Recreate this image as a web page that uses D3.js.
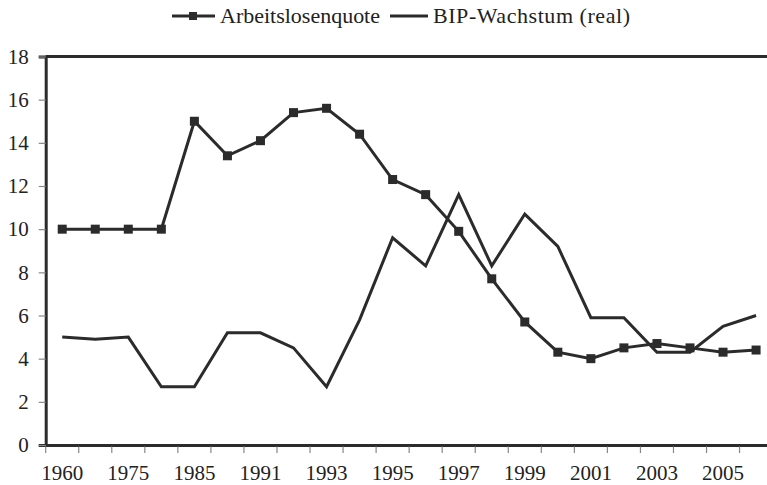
<!DOCTYPE html>
<html><head><meta charset="utf-8">
<script src="https://cdn.jsdelivr.net/npm/d3@7"></script>
<style>body{margin:0;background:#fff}svg{display:block}</style>
</head><body><svg id="c" width="767" height="485"></svg>
<script>
const categories = ["1960","1970","1975","1980","1985","1990","1991","1992","1993","1994","1995","1996","1997","1998","1999","2000","2001","2002","2003","2004","2005","2006"];
const tickLabels = ["1960","1975","1985","1991","1993","1995","1997","1999","2001","2003","2005"];
const arbeitslosenquote = [10,10,10,10,15,13.4,14.1,15.4,15.6,14.4,12.3,11.6,9.9,7.7,5.7,4.3,4.0,4.5,4.7,4.5,4.3,4.4];
const bipWachstum = [5.0,4.9,5.0,2.7,2.7,5.2,5.2,4.5,2.7,5.8,9.6,8.3,11.6,8.3,10.7,9.2,5.9,5.9,4.3,4.3,5.5,6.0];
const yTicks = [0,2,4,6,8,10,12,14,16,18];

const svg = d3.select("#c");
const L = 45.7, R = 772.6, T = 56.5, B = 445;
const x = d3.scaleBand().domain(categories).range([L, R]).padding(0);
const y = d3.scaleLinear().domain([0,18]).range([B, T]);
const col = "#2b2b2b";
const FS = 21;
const FF = '"Liberation Serif"';

svg.append("line").attr("x1",L).attr("x2",R).attr("y1",T).attr("y2",T).attr("stroke",col).attr("stroke-width",3);

const ya = svg.append("g").attr("transform",`translate(${L},0)`)
  .call(d3.axisLeft(y).tickValues(yTicks).tickSize(7).tickPadding(10).tickFormat(d3.format("d")));
ya.select(".domain").attr("stroke",col).attr("stroke-width",3);
ya.selectAll(".tick line").attr("stroke","#888").attr("stroke-width",1.2);
ya.selectAll(".tick text").style("font-family",FF).style("font-size",FS+"px").attr("fill","#222");

const xa = svg.append("g").attr("transform",`translate(0,${B})`)
  .call(d3.axisBottom(x).tickSize(0).tickPadding(0).tickFormat(d => ""));
xa.select(".domain").attr("stroke",col).attr("stroke-width",3);
xa.selectAll(".tick").remove();
const bounds = categories.map(c => x(c)).concat([R]);
xa.selectAll(".bt").data(bounds).enter().append("line")
  .attr("x1",d=>d).attr("x2",d=>d).attr("y1",1.5).attr("y2",8)
  .attr("stroke","#888").attr("stroke-width",1.2);
xa.selectAll(".xl").data(categories.filter((c,i)=>i%2===0)).enter().append("text")
  .attr("x",(c)=>x(c)+x.bandwidth()/2).attr("y",35)
  .attr("text-anchor","middle").style("font-family",FF).style("font-size",FS+"px").attr("fill","#222")
  .text((c,i)=>tickLabels[i]);

const line = d3.line().x((d,i)=>x(categories[i])+x.bandwidth()/2).y(d=>y(d));
svg.append("path").datum(bipWachstum).attr("d",line).attr("fill","none").attr("stroke",col).attr("stroke-width",3);
svg.append("path").datum(arbeitslosenquote).attr("d",line).attr("fill","none").attr("stroke",col).attr("stroke-width",3);
svg.selectAll(".m").data(arbeitslosenquote).enter().append("rect")
  .attr("x",(d,i)=>x(categories[i])+x.bandwidth()/2-4.5).attr("y",d=>y(d)-4.5)
  .attr("width",9).attr("height",9).attr("fill",col);

const lg = svg.append("g");
lg.append("line").attr("x1",172).attr("x2",215).attr("y1",16).attr("y2",16).attr("stroke",col).attr("stroke-width",3);
lg.append("rect").attr("x",189).attr("y",12).attr("width",8).attr("height",8).attr("fill",col);
lg.append("text").attr("x",220).attr("y",23).style("font-family",FF).style("font-size","22px").attr("fill","#222")
  .attr("textLength",160).attr("lengthAdjust","spacing").text("Arbeitslosenquote");
lg.append("line").attr("x1",390).attr("x2",428).attr("y1",16).attr("y2",16).attr("stroke",col).attr("stroke-width",3);
lg.append("text").attr("x",433).attr("y",23).style("font-family",FF).style("font-size","22px").attr("fill","#222")
  .attr("textLength",197).attr("lengthAdjust","spacing").text("BIP-Wachstum (real)");
</script></body></html>
